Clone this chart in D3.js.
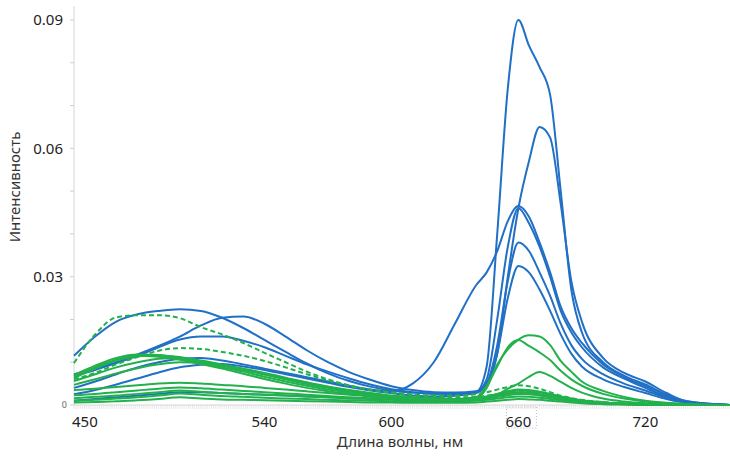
<!DOCTYPE html>
<html lang="ru">
<head>
<meta charset="utf-8">
<title>Спектры</title>
<style>
  body { margin: 0; background: #fff; }
  svg text { font-family: 'Noto Sans', 'Open Sans', sans-serif; }
</style>
<script src="https://d3js.org/d3.v7.min.js"></script>
</head>
<body>
<div id="chart"></div>
<script>
// длины волн (нм)
var wavelengths = [450,460,470,480,490,500,510,520,530,540,550,560,570,580,590,600,610,620,630,640,645,650,655,660,665,670,675,680,685,690,700,710,720,730,740,760];

// синие кривые
var blue1 = [0.0115,0.0160,0.0195,0.0212,0.0220,0.0224,0.0220,0.0204,0.0180,0.0152,0.0124,0.0097,0.0074,0.0056,0.0043,0.0034,0.0029,0.0027,0.0027,0.0030,0.0090,0.0400,0.0740,0.0900,0.0840,0.0790,0.0725,0.0500,0.0270,0.0170,0.0100,0.0068,0.0048,0.0024,0.0006,0];
var blue2 = [0.0072,0.0085,0.0100,0.0118,0.0138,0.0160,0.0186,0.0204,0.0207,0.0190,0.0160,0.0128,0.0100,0.0077,0.0059,0.0044,0.0035,0.0030,0.0029,0.0032,0.0050,0.0120,0.0300,0.0460,0.0570,0.0650,0.0625,0.0470,0.0290,0.0195,0.0110,0.0075,0.0055,0.0028,0.0008,0];
var blue3 = [0.0068,0.0082,0.0098,0.0115,0.0135,0.0153,0.0160,0.0160,0.0150,0.0135,0.0115,0.0095,0.0078,0.0062,0.0048,0.0037,0.0030,0.0026,0.0026,0.0030,0.0060,0.0200,0.0370,0.0460,0.0425,0.0370,0.0300,0.0220,0.0170,0.0135,0.0088,0.0062,0.0040,0.0020,0.0007,0];
var blue4 = [0.0040,0.0055,0.0072,0.0088,0.0100,0.0108,0.0110,0.0104,0.0095,0.0085,0.0075,0.0065,0.0055,0.0045,0.0036,0.0032,0.0050,0.0100,0.0190,0.0280,0.0310,0.0360,0.0430,0.0465,0.0440,0.0380,0.0310,0.0230,0.0180,0.0145,0.0095,0.0066,0.0044,0.0024,0.0009,0];
var blue5 = [0.0025,0.0035,0.0048,0.0062,0.0076,0.0088,0.0094,0.0096,0.0090,0.0082,0.0072,0.0062,0.0052,0.0042,0.0034,0.0028,0.0022,0.0020,0.0022,0.0028,0.0050,0.0140,0.0290,0.0380,0.0360,0.0310,0.0255,0.0190,0.0140,0.0108,0.0072,0.0050,0.0034,0.0017,0.0006,0];
var blue6 = [0.0010,0.0014,0.0018,0.0022,0.0026,0.0030,0.0030,0.0028,0.0026,0.0024,0.0022,0.0020,0.0018,0.0016,0.0015,0.0015,0.0016,0.0018,0.0022,0.0030,0.0045,0.0120,0.0250,0.0325,0.0310,0.0270,0.0220,0.0165,0.0120,0.0090,0.0060,0.0042,0.0028,0.0014,0.0005,0];

// зелёные пунктирные
var greenDash1 = [0.0098,0.0165,0.0205,0.0210,0.0210,0.0203,0.0182,0.0165,0.0145,0.0122,0.0100,0.0078,0.0060,0.0046,0.0036,0.0030,0.0025,0.0022,0.0022,0.0025,0.0030,0.0036,0.0042,0.0046,0.0044,0.0038,0.0030,0.0022,0.0016,0.0012,0.0007,0.0004,0.0002,0.0001,0,0];
var greenDash2 = [0.0060,0.0075,0.0095,0.0112,0.0127,0.0133,0.0131,0.0124,0.0115,0.0103,0.0088,0.0072,0.0057,0.0045,0.0035,0.0028,0.0022,0.0019,0.0018,0.0019,0.0022,0.0026,0.0030,0.0032,0.0031,0.0027,0.0022,0.0016,0.0012,0.0009,0.0005,0.0003,0.0001,0,0,0];

// зелёные сплошные
var greenA = [0.0070,0.0092,0.0110,0.0118,0.0117,0.0110,0.0098,0.0088,0.0078,0.0066,0.0055,0.0045,0.0036,0.0029,0.0023,0.0019,0.0016,0.0014,0.0013,0.0015,0.0040,0.0095,0.0130,0.0153,0.0163,0.0160,0.0140,0.0103,0.0078,0.0055,0.0033,0.0019,0.0010,0.0005,0.0002,0];
var greenB = [0.0063,0.0085,0.0104,0.0114,0.0116,0.0112,0.0102,0.0092,0.0082,0.0071,0.0060,0.0049,0.0040,0.0032,0.0025,0.0020,0.0017,0.0015,0.0014,0.0018,0.0045,0.0090,0.0135,0.0152,0.0138,0.0123,0.0105,0.0080,0.0060,0.0045,0.0026,0.0015,0.0008,0.0004,0.0002,0];
var greenC = [0.0056,0.0072,0.0088,0.0100,0.0108,0.0110,0.0104,0.0095,0.0085,0.0075,0.0064,0.0053,0.0043,0.0035,0.0028,0.0022,0.0018,0.0015,0.0013,0.0012,0.0016,0.0024,0.0038,0.0050,0.0066,0.0077,0.0068,0.0054,0.0040,0.0029,0.0015,0.0008,0.0004,0.0002,0.0001,0];
var greenD = [0.0047,0.0060,0.0074,0.0086,0.0095,0.0100,0.0098,0.0092,0.0083,0.0072,0.0061,0.0051,0.0042,0.0034,0.0027,0.0021,0.0017,0.0015,0.0014,0.0016,0.0019,0.0024,0.0030,0.0034,0.0033,0.0030,0.0025,0.0019,0.0014,0.0010,0.0006,0.0003,0.0002,0.0001,0,0];
var greenE = [0.0066,0.0088,0.0106,0.0115,0.0113,0.0106,0.0096,0.0085,0.0073,0.0061,0.0050,0.0040,0.0032,0.0026,0.0021,0.0017,0.0014,0.0012,0.0011,0.0012,0.0014,0.0019,0.0024,0.0028,0.0027,0.0024,0.0020,0.0015,0.0011,0.0008,0.0005,0.0003,0.0001,0,0,0];
var greenF = [0.0035,0.0038,0.0042,0.0046,0.0050,0.0052,0.0050,0.0047,0.0044,0.0040,0.0036,0.0032,0.0028,0.0024,0.0020,0.0017,0.0015,0.0013,0.0013,0.0016,0.0020,0.0026,0.0032,0.0036,0.0035,0.0031,0.0026,0.0020,0.0015,0.0011,0.0006,0.0003,0.0002,0.0001,0,0];
var greenG = [0.0023,0.0026,0.0030,0.0034,0.0038,0.0041,0.0039,0.0036,0.0033,0.0030,0.0027,0.0024,0.0021,0.0018,0.0016,0.0014,0.0012,0.0011,0.0011,0.0013,0.0017,0.0022,0.0027,0.0030,0.0029,0.0026,0.0022,0.0017,0.0013,0.0009,0.0005,0.0003,0.0001,0,0,0];
var greenH = [0.0016,0.0019,0.0022,0.0026,0.0030,0.0034,0.0031,0.0028,0.0026,0.0024,0.0022,0.0020,0.0018,0.0016,0.0014,0.0012,0.0011,0.0010,0.0010,0.0012,0.0015,0.0019,0.0023,0.0026,0.0025,0.0022,0.0018,0.0014,0.0010,0.0007,0.0004,0.0002,0.0001,0,0,0];
var greenI = [0.0010,0.0012,0.0015,0.0018,0.0022,0.0027,0.0024,0.0021,0.0019,0.0017,0.0015,0.0014,0.0012,0.0011,0.0010,0.0009,0.0008,0.0008,0.0008,0.0010,0.0012,0.0015,0.0018,0.0020,0.0019,0.0017,0.0014,0.0011,0.0008,0.0006,0.0003,0.0002,0.0001,0,0,0];
var greenJ = [0.0006,0.0007,0.0009,0.0011,0.0014,0.0018,0.0015,0.0013,0.0012,0.0011,0.0010,0.0009,0.0008,0.0007,0.0006,0.0006,0.0005,0.0005,0.0005,0.0006,0.0008,0.0010,0.0012,0.0014,0.0013,0.0012,0.0010,0.0008,0.0006,0.0004,0.0002,0.0001,0,0,0,0];

var blueLines = [blue1, blue2, blue3, blue4, blue5, blue6];
var greenLines = [greenJ, greenI, greenH, greenG, greenF, greenD, greenC, greenE, greenB, greenA];
var dashedLines = [greenDash2, greenDash1];

// подписи осей
var xTicks = [450, 540, 600, 660, 720];
var yTicks = [0, 0.03, 0.06, 0.09];
var yMinorTicks = [0, 0.01, 0.02, 0.03, 0.04, 0.05, 0.06, 0.07, 0.08, 0.09];
var xTitle = "Длина волны, нм";
var yTitle = "Интенсивность";

var blueColor = "#2170c6";
var greenColor = "#22b14c";

var width = 730, height = 456;

var svg = d3.select("#chart")
	.append("svg")
	.attr("width", width)
	.attr("height", height);

var x = d3.scaleLinear().domain([450, 760]).range([74, 730]);
var y = d3.scaleLinear().domain([0, 0.09]).range([405, 20]);

// ось Y
svg.append("line")
	.attr("x1", 74).attr("x2", 74)
	.attr("y1", 6).attr("y2", y(0))
	.attr("stroke", "#d6d6d6");

svg.selectAll(".ytick")
	.data(yMinorTicks)
	.enter()
	.append("line")
	.attr("x1", 70).attr("x2", 74)
	.attr("y1", function(d){ return y(d); })
	.attr("y2", function(d){ return y(d); })
	.attr("stroke", "#cfcfcf");

svg.selectAll(".ylabel")
	.data(yTicks)
	.enter()
	.append("text")
	.attr("x", function(d){ return d === 0 ? 67 : 63; })
	.attr("y", function(d){ return y(d); })
	.attr("dy", "0.35em")
	.attr("text-anchor", "end")
	.attr("font-size", function(d){ return d === 0 ? 9 : 15; })
	.attr("fill", function(d){ return d === 0 ? "#666" : "#222"; })
	.text(function(d){ return d === 0 ? "0" : d3.format(".2f")(d); });

// ось X
svg.selectAll(".xminor")
	.data(d3.range(450, 761, 1))
	.enter()
	.append("line")
	.attr("x1", function(d){ return x(d); })
	.attr("x2", function(d){ return x(d); })
	.attr("y1", y(0)).attr("y2", y(0) + 4)
	.attr("stroke", "#e2e2e2")
	.attr("stroke-width", 0.8);

svg.append("line")
	.attr("x1", 74).attr("x2", 730)
	.attr("y1", y(0)).attr("y2", y(0))
	.attr("stroke", "#d6d6d6");

svg.selectAll(".xlabel")
	.data(xTicks)
	.enter()
	.append("text")
	.attr("x", function(d){ return d === 450 ? 72 : x(d); })
	.attr("y", 427)
	.attr("text-anchor", function(d){ return d === 450 ? "start" : "middle"; })
	.attr("font-size", 15)
	.attr("fill", "#222")
	.text(function(d){ return d; });

// рамка выделения вокруг 660
svg.append("rect")
	.attr("x", x(660) - 12).attr("y", 407)
	.attr("width", 30).attr("height", 21)
	.attr("fill", "none")
	.attr("stroke", "#aaa")
	.attr("stroke-width", 0.8)
	.attr("stroke-dasharray", "1,2");

// названия осей
svg.append("text")
	.attr("x", 400).attr("y", 447)
	.attr("text-anchor", "middle")
	.attr("font-size", 15)
	.attr("fill", "#333")
	.text(xTitle);

svg.append("text")
	.attr("transform", "translate(20,187) rotate(-90)")
	.attr("text-anchor", "middle")
	.attr("font-size", 15)
	.attr("fill", "#333")
	.text(yTitle);

// кривые
var line = d3.line()
	.x(function(d, i){ return x(wavelengths[i]); })
	.y(function(d){ return y(d); })
	.curve(d3.curveMonotoneX);

svg.selectAll(".blue")
	.data(blueLines)
	.enter()
	.append("path")
	.attr("d", line)
	.attr("fill", "none")
	.attr("stroke", blueColor)
	.attr("stroke-width", 2);

svg.selectAll(".green")
	.data(greenLines)
	.enter()
	.append("path")
	.attr("d", line)
	.attr("fill", "none")
	.attr("stroke", greenColor)
	.attr("stroke-width", 2);

svg.selectAll(".dashed")
	.data(dashedLines)
	.enter()
	.append("path")
	.attr("d", line)
	.attr("fill", "none")
	.attr("stroke", greenColor)
	.attr("stroke-width", 2)
	.attr("stroke-dasharray", "5,3");
</script>
</body>
</html>
